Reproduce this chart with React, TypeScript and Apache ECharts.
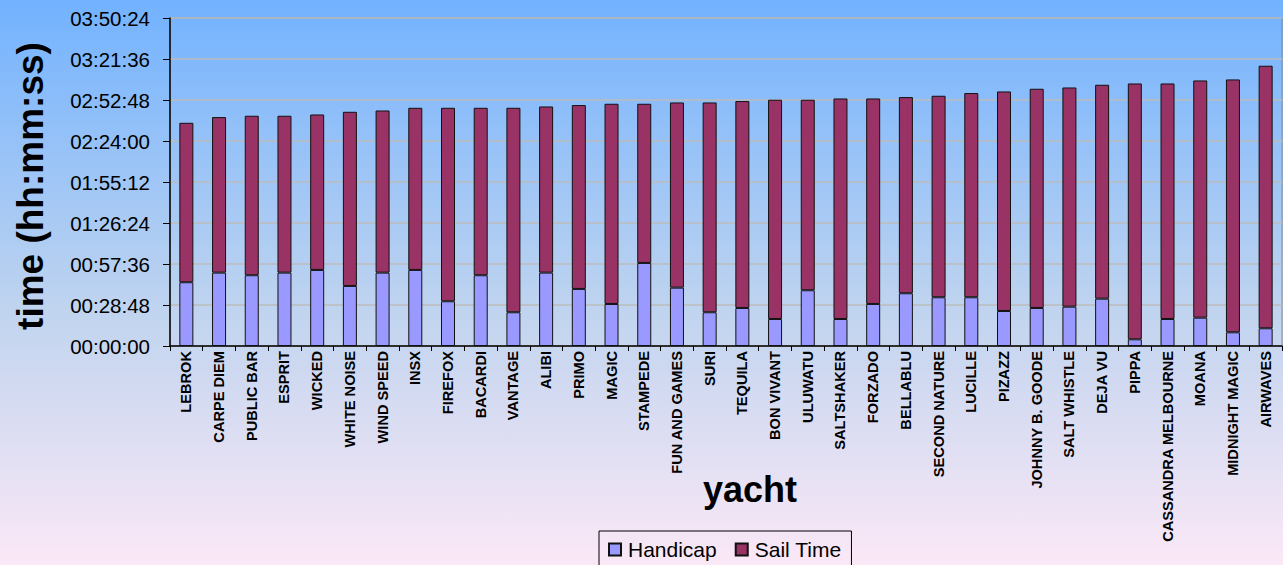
import React, { useEffect, useRef } from "react";
import * as echarts from "echarts";

const yachts = [
  "LEBROK", "CARPE DIEM", "PUBLIC BAR", "ESPRIT", "WICKED", "WHITE NOISE", "WIND SPEED", "INSX",
  "FIREFOX", "BACARDI", "VANTAGE", "ALIBI", "PRIMO", "MAGIC", "STAMPEDE", "FUN AND GAMES",
  "SURI", "TEQUILA", "BON VIVANT", "ULUWATU", "SALTSHAKER", "FORZADO", "BELLABLU", "SECOND NATURE",
  "LUCILLE", "PIZAZZ", "JOHNNY B. GOODE", "SALT WHISTLE", "DEJA VU", "PIPPA", "CASSANDRA MELBOURNE",
  "MOANA", "MIDNIGHT MAGIC", "AIRWAVES",
];

// seconds
const handicap = [
  2687, 3092, 2982, 3092, 3206, 2531, 3092, 3206,
  1886, 2982, 1422, 3092, 2405, 1772, 3501, 2459,
  1422, 1603, 1139, 2350, 1139, 1772, 2223, 2054,
  2054, 1476, 1603, 1658, 1995, 283, 1139,
  1194, 578, 747,
];

const sailTime = [
  6720, 6556, 6721, 6611, 6551, 7340, 6834, 6834,
  8154, 7058, 8618, 7003, 7749, 8437, 6708, 7805,
  8842, 8720, 9239, 8028, 9293, 8660, 8268, 8492,
  8606, 9252, 9239, 9238, 9015, 10782, 9926,
  9998, 10656, 11065,
];

const yMin = 0;
const yMax = 13824;
const yInterval = 1728;

const FONT = "'Liberation Sans', Arial, sans-serif";

function fmt(v: number): string {
  const s = Math.round(v);
  const h = Math.floor(s / 3600);
  const m = Math.floor((s % 3600) / 60);
  const sec = s % 60;
  const p = (n: number) => (n < 10 ? "0" + n : "" + n);
  return p(h) + ":" + p(m) + ":" + p(sec);
}

export default function App() {
  const ref = useRef<HTMLDivElement>(null);
  useEffect(() => {
    if (!ref.current) return;
    const chart = echarts.init(ref.current, undefined, { renderer: "svg" });
    chart.setOption({
      animation: false,
      backgroundColor: new echarts.graphic.LinearGradient(0, 0, 0, 1, [
        { offset: 0, color: "#72b2ff" },
        { offset: 0.55, color: "#c0d4ef" },
        { offset: 1, color: "#fbe8f6" },
      ]),
      grid: {
        left: 170,
        right: 1,
        top: 18,
        bottom: 219,
        show: true,
        borderColor: "#8a8a8a",
        borderWidth: 1,
        backgroundColor: "transparent",
      },
      legend: {
        left: 599,
        top: 531,
        padding: [8, 10, 8, 9],
        itemWidth: 12,
        itemHeight: 12,
        itemGap: 18,
        borderColor: "#000",
        borderWidth: 1,
        icon: "rect",
        textStyle: { fontFamily: FONT, fontSize: 21, color: "#000", padding: [0, 0, 0, 2] },
        data: ["Handicap", "Sail Time"],
      },
      xAxis: {
        type: "category",
        data: yachts,
        axisLine: { lineStyle: { color: "#000", width: 1.5 } },
        axisTick: { show: true, length: 5, lineStyle: { color: "#000" } },
        axisLabel: {
          rotate: 90,
          interval: 0,
          margin: 5,
          fontFamily: FONT,
          fontSize: 14.6,
          fontWeight: "bold",
          color: "#000",
        },
      },
      yAxis: {
        type: "value",
        min: yMin,
        max: yMax,
        interval: yInterval,
        axisLine: { show: true, lineStyle: { color: "#000", width: 1.5 } },
        axisTick: { show: true, length: 7, lineStyle: { color: "#000" } },
        axisLabel: {
          margin: 20,
          fontFamily: FONT,
          fontSize: 20.5,
          color: "#000",
          formatter: (v: number) => fmt(v),
        },
        splitLine: { lineStyle: { color: "#bdbdbd", width: 1.5 } },
      },
      series: [
        {
          name: "Handicap",
          type: "bar",
          stack: "t",
          barWidth: 14,
          data: handicap,
          itemStyle: { color: "#9999ff", borderColor: "#111", borderWidth: 1 },
        },
        {
          name: "Sail Time",
          type: "bar",
          stack: "t",
          barWidth: 14,
          data: sailTime,
          itemStyle: { color: "#993366", borderColor: "#111", borderWidth: 1 },
        },
      ],
      graphic: [
        {
          type: "text",
          x: 30,
          y: 186,
          rotation: Math.PI / 2,
          style: {
            text: "time (hh:mm:ss)",
            fontFamily: FONT,
            fontSize: 37,
            fontWeight: "bold",
            fill: "#000",
            textAlign: "center",
            textVerticalAlign: "middle",
          },
        },
        {
          type: "text",
          x: 750,
          y: 489,
          style: {
            text: "yacht",
            fontFamily: FONT,
            fontSize: 36,
            fontWeight: "bold",
            fill: "#000",
            textAlign: "center",
            textVerticalAlign: "middle",
          },
        },
      ],
    });
    return () => chart.dispose();
  }, []);
  return (
    <div
      ref={ref}
      style={{ position: "absolute", left: 0, top: 0, width: 1283, height: 565 }}
    />
  );
}
